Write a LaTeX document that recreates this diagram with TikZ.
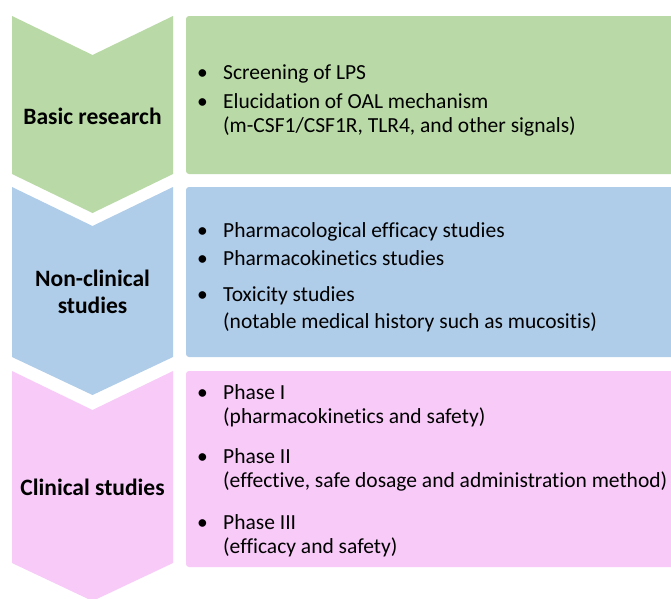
\documentclass[tikz,border=0pt]{standalone}
\usepackage{fontspec}
\setmainfont{Carlito}[Ligatures={NoCommon,TeX}]
\definecolor{stagegreen}{RGB}{185,217,166}
\definecolor{stageblue}{RGB}{175,204,232}
\definecolor{stagepink}{RGB}{248,202,248}
\begin{document}
\begin{tikzpicture}[x=1pt,y=-1pt,
  stagelabel/.style={inner sep=0pt,anchor=base,font=\fontsize{23.5}{29}\selectfont\bfseries,align=center},
  item/.style={inner sep=0pt,anchor=base west,font=\fontsize{21.5}{24}\selectfont},
  bul/.style={item},
  panel/.style={rounded corners=3pt}]
\useasboundingbox (0,0) rectangle (671,598);
\clip (0,0) rectangle (671,598);

% stage chevrons
\fill[stagegreen] (12,16) -- (92.5,55) -- (173,16) -- (173,174) -- (92.5,213) -- (12,174) -- cycle;
\fill[stageblue]  (12,187) -- (92.5,226) -- (173,187) -- (173,357) -- (92.5,395) -- (12,357) -- cycle;
\fill[stagepink]  (12,371) -- (92.5,410) -- (173,371) -- (173,563) -- (92.5,601) -- (12,563) -- cycle;

% detail panels
\fill[stagegreen,panel] (186,16) rectangle (690,174);
\fill[stageblue,panel]  (186,187) rectangle (690,357);
\fill[stagepink,panel]  (186,371) rectangle (690,567);

% stage names
\node[stagelabel] (basic) at (92.5,124) {Basic research};
\node[stagelabel] (nonclin1) at (92.5,286) {Non-clinical};
\node[stagelabel] (nonclin2) at (92.5,313) {studies};
\node[stagelabel] (clin) at (92.5,495) {Clinical studies};

% basic research items
\node[bul] (b1) at (197,79) {\makebox[26pt][l]{•}Screening of LPS};
\node[bul] (b2) at (197,108) {\makebox[26pt][l]{•}Elucidation of OAL mechanism};
\node[item] (b3) at (223,132) {(m-CSF1/CSF1R, TLR4, and other signals)};

% non-clinical items
\node[bul] (n1) at (197,237) {\makebox[26pt][l]{•}Pharmacological efficacy studies};
\node[bul] (n2) at (197,265) {\makebox[26pt][l]{•}Pharmacokinetics studies};
\node[bul] (n3) at (197,301) {\makebox[26pt][l]{•}Toxicity studies};
\node[item] (n4) at (223,328) {(notable medical history such as mucositis)};

% clinical items
\node[bul] (c1) at (197,399) {\makebox[26pt][l]{•}Phase I};
\node[item] (c2) at (223,423) {(pharmacokinetics and safety)};
\node[bul] (c3) at (197,463) {\makebox[26pt][l]{•}Phase II};
\node[item] (c4) at (223,487) {(effective, safe dosage and administration method)};
\node[bul] (c5) at (197,529) {\makebox[26pt][l]{•}Phase III};
\node[item] (c6) at (223,553) {(efficacy and safety)};
\end{tikzpicture}
\end{document}
